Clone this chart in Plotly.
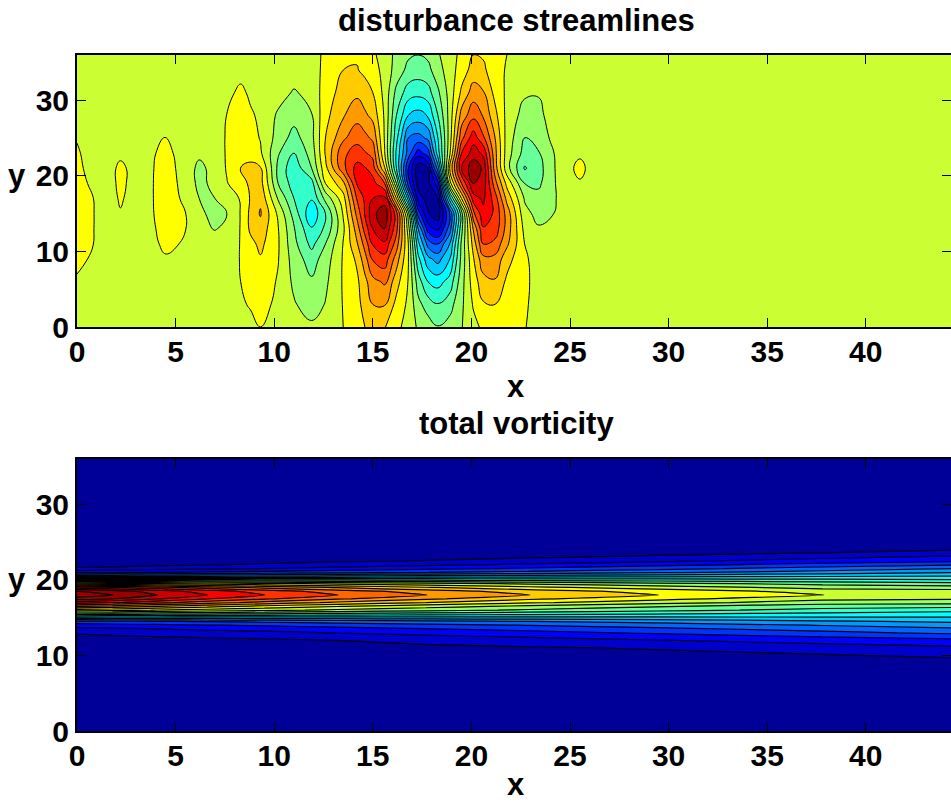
import plotly.graph_objects as go

FONT = "Liberation Sans"
W, H = 951, 802

jet_bands = ["#000099", "#0000cc", "#0000ff", "#0033ff", "#0066ff", "#0099ff", "#00ccff",
             "#00ffff", "#33ffcc", "#66ff99", "#99ff66", "#ccff33", "#ffff00", "#ffcc00",
             "#ff9900", "#ff6600", "#ff3300", "#ff0000", "#cc0000", "#990000"]

# --- disturbance streamlines: z is expressed in contour-band units
top_y = [0, 3, 6, 9, 11, 13, 15, 17, 19, 21, 23, 25, 28, 31, 34, 36]
top_x = [0, 0.8, 1.6, 2.2, 2.8, 3.5, 4.5, 5.5, 6.2, 7, 7.6, 8.3, 8.8, 9.3, 10.2, 11, 11.9, 12.6,
         13.5, 14.2, 14.6, 15, 15.6, 16.2, 16.8, 17.3, 17.8, 18.3, 18.9, 19.5, 20.1, 20.6, 21.2,
         21.8, 22.7, 23.4, 24.3, 25, 25.5, 26, 26.5, 45]
top_columns = [
    [0, .1, .4, .7, .85, .95, .95, .9, .8, .7, .6, .45, .15, 0, 0, 0],
    [0, 0, .1, .4, .52, .53, .53, .52, .35, .2, .15, .1, 0, 0, 0, 0],
    [0, 0, 0, .05, .1, .12, .15, .2, .25, .25, .1, 0, 0, 0, 0, 0],
    [0, 0, 0, 0, .05, .2, .45, .58, .65, .65, .35, .1, 0, 0, 0, 0],
    [0, 0, 0, 0, 0, .05, .2, .3, .35, .35, .15, .02, 0, 0, 0, 0],
    [0, 0, 0, .05, .1, .15, .2, .2, .2, .2, .2, .15, 0, 0, 0, 0],
    [0, 0, .1, .4, .7, .85, .95, 1.0, 1.0, .95, .8, .55, .15, 0, 0, 0],
    [0, 0, .05, .2, .4, .52, .52, .3, .15, .05, 0, 0, 0, 0, 0, 0],
    [0, 0, 0, -.05, -.1, -.2, -.3, -.5, -.75, -.75, -.3, -.05, 0, 0, 0, 0],
    [0, 0, 0, -.1, -.25, -.55, -.8, -.5, -.25, -.15, -.05, 0, 0, 0, 0, 0],
    [0, 0, 0, 0, -.1, -.3, -.5, -.2, .45, .58, .6, .6, .52, .2, 0, 0],
    [0, .35, .5, .55, .55, .55, .55, .6, 1.0, 1.55, 1.3, 1.15, .95, .75, .1, 0],
    [.2, .6, .8, .9, 1.2, 1.7, 1.75, 1.6, 1.75, 1.85, 1.0, .85, .65, .3, 0, 0],
    [.5, .95, 1.1, 1.4, 1.75, 2.1, 2.6, 2.3, 1.9, 1.6, .65, .45, .3, .1, 0, 0],
    [0, .2, .4, .55, .6, .55, .3, -.6, -1.5, -1.75, -1.4, -.9, -.65, -.1, 0, 0],
    [0, -.4, -.7, -.95, -1.2, -1.4, -1.9, -2.5, -3, -3.2, -2.5, -1.9, -1.1, -.6, 0, 0],
    [-.3, -1, -1.35, -2, -2.8, -3.4, -4.3, -3.4, -2.9, -1.5, -1.1, -.8, -.55, -.2, 0, 0],
    [-.15, -.45, -.7, -1, -1.5, -2.3, -2.5, -1.2, .5, 1.2, 1.6, 1.5, 1.2, 1, .8, .75],
    [.5, .55, .6, .6, .55, .3, .6, 1.1, 2.2, 4.2, 4.3, 3.3, 2.4, 1.9, 1.5, 1.3],
    [1.1, 1.2, 1.3, 1.7, 2.4, 3, 3.8, 4.6, 5.6, 5.9, 4.9, 4.2, 3.1, 2.3, 1.55, 1.4],
    [1.5, 1.85, 2.2, 3.1, 3.9, 4.9, 5.6, 5.7, 5.9, 5.6, 4.6, 3.8, 2.7, 1.9, 1.3, 1.15],
    [1.9, 2.5, 3.2, 4.6, 5.6, 6.5, 7.2, 6.5, 5.9, 5.0, 4.2, 3.3, 2.2, 1.5, 1, .7],
    [1.55, 2.55, 3.65, 5.1, 6.3, 7.55, 8.2, 6.9, 4.5, 1.6, .55, .4, .35, .2, .1, 0],
    [.9, 1.2, 1.9, 3, 4, 4.8, 5, 1.5, -1.5, -3.5, -3.7, -3.2, -2.5, -1.8, -.9, -.75],
    [-.1, .3, .45, .55, .5, 0, -1, -5, -8, -8.5, -7, -6.5, -4.5, -3, -1.8, -1.35],
    [-.6, -1.2, -2, -3.2, -4.2, -5.5, -8, -10, -10.9, -11.2, -9, -6.9, -4.9, -3.2, -2, -1.5],
    [-1, -2, -3.5, -5.2, -6.9, -9, -10.4, -10.9, -10.8, -10.5, -8, -6.3, -4.4, -2.9, -1.8, -1.3],
    [-1.45, -2.45, -3.9, -5.9, -7.5, -9.8, -11.1, -10.5, -9, -6, -4, -3.5, -2.5, -1.7, -.9, -.6],
    [-1.1, -1.9, -3.1, -4.5, -5.5, -7, -7.5, -4, 0, 1.5, .3, 0, -.1, -.1, 0, 0],
    [-.55, -.7, -.9, -1.2, -1.3, -1.8, -2, 1.5, 4.5, 6.5, 5.5, 4.2, 2.9, 1.7, 1, .8],
    [.2, .6, 1, 1.4, 1.9, 2.6, 4.2, 6, 7.5, 8.2, 7, 6.1, 4.2, 3, 1.9, 1.5],
    [.7, 1.4, 2.1, 3.2, 4.5, 5.4, 6.2, 6.7, 7.1, 7.3, 6.3, 4.7, 3.4, 2.6, 1.7, 1.4],
    [1, 1.5, 2.4, 3.2, 4.2, 5.1, 5.3, 5, 3.9, 3, 2.8, 2.5, 1.8, 1.2, .9, .8],
    [.85, .95, 1.3, 1.9, 2.7, 3.1, 3.1, 2.2, 1.2, -.1, 0, .1, .2, .3, .4, .5],
    [.55, .65, .7, .65, .5, .2, -.2, -.6, -1.5, -2.6, -1.9, -1.55, -.9, -.35, 0, 0],
    [.1, .1, .15, .1, 0, -.4, -.8, -1.15, -1.7, -1.9, -1.6, -.95, -.7, -.45, 0, 0],
    [0, 0, 0, 0, 0, -.2, -.45, -.5, -.45, -.4, -.35, -.2, -.05, 0, 0, 0],
    [0, 0, 0, 0, 0, 0, -.1, -.1, .1, .35, .05, 0, 0, 0, 0, 0],
    [0, 0, 0, 0, 0, 0, 0, .05, .4, .75, .35, .05, 0, 0, 0, 0],
    [0, 0, 0, 0, 0, 0, 0, 0, .1, .3, .1, 0, 0, 0, 0, 0],
    [0] * 16,
    [0] * 16,
]
top_z = [list(row) for row in zip(*top_columns)]

# --- total vorticity: z is expressed in contour-band units
bot_x = [0, 1.8, 4.05, 6.6, 9.5, 13.2, 17.7, 22.9, 29.4, 37.8, 44.5]
bot_y = [0, 9, 10, 11, 12, 13, 13.5, 14, 14.5, 15, 15.5, 16, 16.5, 17, 17.5, 18, 18.5, 19,
         19.5, 20, 20.5, 21, 21.5, 22, 22.5, 23, 23.5, 24, 25, 36]
bot_z = [
    [1, 1, 1, 1, 1, 1, 1, 1, 1, 1, 1],
    [1, 1, 1, 1, 1, 1, 1, 1, 1, 1, 1],
    [1, 1, 1, 1, 1.01, 1.03, 1.06, 1.12, 1.22, 1.42, 1.7],
    [1, 1.01, 1.03, 1.05, 1.1, 1.18, 1.28, 1.4, 1.58, 2.0, 2.3],
    [1.05, 1.08, 1.13, 1.2, 1.3, 1.5, 1.75, 2.05, 2.45, 2.88, 3.2],
    [1.6, 1.72, 1.88, 2.07, 2.25, 2.53, 2.84, 3.18, 3.65, 4.24, 4.7],
    [2.2, 2.32, 2.48, 2.67, 2.85, 3.13, 3.44, 3.78, 4.25, 4.84, 5.3],
    [3, 3.12, 3.27, 3.45, 3.63, 3.9, 4.2, 4.53, 4.98, 5.55, 6],
    [4.2, 4.3, 4.43, 4.58, 4.73, 4.95, 5.2, 5.48, 5.85, 6.33, 6.7],
    [7, 7, 7, 7, 7.05, 7.1, 7.1, 7.2, 7.25, 7.35, 7.4],
    [10, 9.9, 9.75, 9.6, 9.45, 9.2, 9.0, 8.8, 8.55, 8.25, 8.1],
    [13, 12.8, 12.45, 12.1, 11.75, 11.3, 10.85, 10.35, 9.8, 9.2, 8.8],
    [15.5, 15.15, 14.5, 13.85, 13.2, 12.55, 11.9, 11.25, 10.6, 9.9, 9.8],
    [18, 17.6, 16.8, 15.95, 15.15, 14.3, 13.5, 12.65, 11.9, 11.0, 10.9],
    [20, 19.5, 18.6, 17.55, 16.65, 15.65, 14.7, 13.7, 12.8, 11.75, 11.6],
    [21.2, 20.51, 19.51, 18.51, 17.51, 16.51, 15.51, 14.51, 13.51, 12.51, 12.3],
    [20.5, 20, 19, 18, 17, 16, 15, 14, 13.1, 12.1, 11.9],
    [18, 17.6, 16.8, 16, 15.2, 14.4, 13.6, 12.75, 12, 11.15, 11],
    [14, 13.8, 13.45, 13.1, 12.75, 12.3, 11.85, 11.35, 10.8, 10.2, 9.8],
    [10, 9.9, 9.8, 9.7, 9.6, 9.45, 9.3, 9.1, 8.95, 8.75, 8.6],
    [6, 6.1, 6.2, 6.3, 6.45, 6.6, 6.75, 6.95, 7.15, 7.35, 7.5],
    [3.2, 3.33, 3.49, 3.68, 3.87, 4.16, 4.48, 4.83, 5.31, 5.92, 6.4],
    [1.7, 1.85, 2.04, 2.27, 2.5, 2.84, 3.22, 3.64, 4.21, 4.93, 5.5],
    [1, 1.1, 1.25, 1.45, 1.65, 1.95, 2.3, 2.7, 3.2, 3.9, 4.4],
    [1, 1.03, 1.07, 1.13, 1.2, 1.35, 1.55, 1.85, 2.3, 2.9, 3.3],
    [1, 1.01, 1.03, 1.06, 1.1, 1.17, 1.27, 1.42, 1.65, 2.3, 2.7],
    [1, 1, 1.01, 1.02, 1.04, 1.07, 1.12, 1.2, 1.33, 1.55, 2.1],
    [1, 1, 1, 1, 1, 1.01, 1.02, 1.05, 1.1, 1.25, 1.45],
    [1, 1, 1, 1, 1, 1, 1, 1, 1, 1, 1],
    [1, 1, 1, 1, 1, 1, 1, 1, 1, 1, 1],
]

x_ticks = [0, 5, 10, 15, 20, 25, 30, 35, 40]
y_ticks = [0, 10, 20, 30]


def scale(colors):
    n = len(colors) - 1
    return [[i / n, c] for i, c in enumerate(colors)]


fig = go.Figure()
fig.add_trace(go.Contour(
    x=top_x, y=top_y, z=top_z, xaxis="x", yaxis="y", showscale=False, hoverinfo="skip",
    zmin=-11, zmax=8, colorscale=scale(jet_bands), autocontour=False,
    contours=dict(start=-10.5, end=7.5, size=1, coloring="fill"),
    line=dict(color="black", width=1, smoothing=1.3),
))
fig.add_trace(go.Contour(
    x=bot_x, y=bot_y, z=bot_z, xaxis="x2", yaxis="y2", showscale=False, hoverinfo="skip",
    zmin=1, zmax=21, colorscale=scale(jet_bands + jet_bands[-1:]), autocontour=False,
    contours=dict(start=1.5, end=20.5, size=1, coloring="fill"),
    line=dict(color="black", width=1.2, smoothing=0.5),
))

tick_font = dict(family=FONT, size=30, color="black", weight="bold")
axis_common = dict(showline=True, linecolor="black", linewidth=2, mirror="ticks", ticks="inside",
                   ticklen=9, tickwidth=1, tickcolor="black", showgrid=False, zeroline=False,
                   tickfont=tick_font)
xdom = [77 / W, 1]
xrange_ = [0, (W - 77) / 19.72]
fig.update_layout(
    width=W, height=H, autosize=False, margin=dict(l=0, r=0, t=0, b=0, autoexpand=False),
    paper_bgcolor="white", plot_bgcolor="white", showlegend=False,
    xaxis=dict(domain=xdom, range=xrange_, tickvals=x_ticks, anchor="y", ticklabelstandoff=-3, **axis_common),
    yaxis=dict(domain=[(H - 327) / H, (H - 55) / H], range=[0, 36], tickvals=y_ticks, anchor="x", **axis_common),
    xaxis2=dict(domain=xdom, range=xrange_, tickvals=x_ticks, anchor="y2", ticklabelstandoff=-3, **axis_common),
    yaxis2=dict(domain=[(H - 731) / H, (H - 459) / H], range=[0, 36], tickvals=y_ticks, anchor="x2", **axis_common),
)


def label(text, xref, yref, x, y, dx, dy):
    fig.add_annotation(text=f"<b>{text}</b>", x=x, y=y, xref=xref, yref=yref, xshift=dx, yshift=dy,
                       showarrow=False, xanchor="center", yanchor="middle",
                       font=dict(family=FONT, size=31, color="black"))


mid_x = (516 - 77) / 19.72
label("disturbance streamlines", "x", "y", mid_x, 36, 0, 35)
label("x", "x", "y", mid_x, 0, 0, -59)
label("y", "x", "y", 0, 20, -60, 0)
label("total vorticity", "x2", "y2", mid_x, 36, 0, 36)
label("x", "x2", "y2", mid_x, 0, 0, -53)
label("y", "x2", "y2", 0, 20, -60, 0)

fig.write_html("out.html", post_script="document.body.style.margin='0';document.body.style.overflow='hidden';",
               config=dict(displayModeBar=False))
